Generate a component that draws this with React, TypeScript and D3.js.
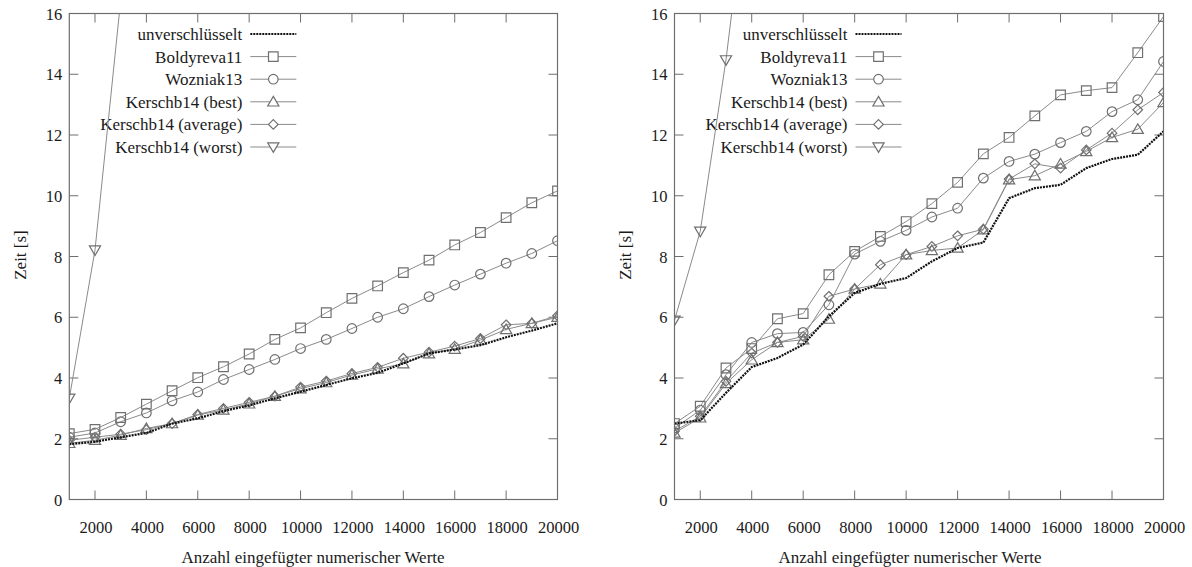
import React from "react";
import * as d3 from "d3";

const xValues = [1000, 2000, 3000, 4000, 5000, 6000, 7000, 8000, 9000, 10000, 11000, 12000, 13000, 14000, 15000, 16000, 17000, 18000, 19000, 20000];
const xTicks = [2000, 4000, 6000, 8000, 10000, 12000, 14000, 16000, 18000, 20000];
const yTicks = [0, 2, 4, 6, 8, 10, 12, 14, 16];

const seriesNames = ["unverschlüsselt", "Boldyreva11", "Wozniak13", "Kerschb14 (best)", "Kerschb14 (average)", "Kerschb14 (worst)"];
const seriesMarkers = ["none", "square", "circle", "triangle", "diamond", "triangleDown"];

// Left panel
const leftUnverschluesselt = [1.82, 1.9, 2.05, 2.19, 2.5, 2.67, 2.91, 3.1, 3.33, 3.55, 3.77, 3.99, 4.17, 4.48, 4.81, 4.94, 5.08, 5.34, 5.56, 5.8];
const leftBoldyreva = [2.17, 2.31, 2.7, 3.14, 3.58, 4.01, 4.37, 4.79, 5.27, 5.65, 6.15, 6.62, 7.03, 7.47, 7.88, 8.38, 8.79, 9.28, 9.77, 10.16];
const leftWozniak = [2.05, 2.19, 2.56, 2.85, 3.25, 3.54, 3.95, 4.28, 4.61, 4.97, 5.27, 5.63, 6.0, 6.28, 6.68, 7.06, 7.42, 7.78, 8.1, 8.52];
const leftBest = [1.85, 1.95, 2.12, 2.34, 2.5, 2.78, 2.95, 3.15, 3.4, 3.65, 3.85, 4.1, 4.3, 4.47, 4.8, 4.95, 5.25, 5.6, 5.8, 6.0];
const leftAverage = [1.95, 2.05, 2.15, 2.3, 2.5, 2.8, 3.0, 3.2, 3.4, 3.7, 3.9, 4.15, 4.35, 4.65, 4.85, 5.05, 5.3, 5.75, 5.8, 6.05];
const leftWorst = [3.33, 8.21, 16.44];

// Right panel
const rightUnverschluesselt = [2.5, 2.61, 3.51, 4.36, 4.66, 5.1, 6.03, 6.8, 7.1, 7.29, 7.84, 8.28, 8.46, 9.92, 10.25, 10.36, 10.91, 11.21, 11.35, 12.12];
const rightBoldyreva = [2.5, 3.07, 4.33, 4.97, 5.95, 6.12, 7.4, 8.17, 8.66, 9.15, 9.74, 10.44, 11.38, 11.92, 12.63, 13.32, 13.46, 13.56, 14.71, 15.9];
const rightWozniak = [2.35, 2.94, 4.11, 5.17, 5.46, 5.5, 6.41, 8.08, 8.5, 8.86, 9.3, 9.59, 10.58, 11.13, 11.37, 11.75, 12.12, 12.77, 13.16, 14.42];
const rightBest = [2.19, 2.69, 3.82, 4.6, 5.17, 5.26, 5.94, 6.93, 7.1, 8.06, 8.2, 8.28, 8.88, 10.53, 10.66, 11.05, 11.46, 11.92, 12.19, 13.07];
const rightAverage = [2.25, 2.74, 3.89, 4.82, 5.17, 5.37, 6.69, 6.93, 7.73, 8.06, 8.33, 8.68, 8.9, 10.55, 11.05, 10.91, 11.51, 12.06, 12.83, 13.4];
const rightWorst = [5.9, 8.83, 14.47, 21.4];

const xTitle = "Anzahl eingefügter numerischer Werte";
const yTitle = "Zeit [s]";

const FONT = "Liberation Serif";
const AXIS = "#6e6e6e";
const LINE = "#8a8a8a";
const MARK = "#6f6f6f";
const TXT = "#1a1a1a";

function markerPath(type: string, x: number, y: number): string {
  const s = 4.8;
  switch (type) {
    case "square":
      return `M${x - s},${y - s}H${x + s}V${y + s}H${x - s}Z`;
    case "circle":
      return `M${x - s},${y}A${s},${s} 0 1,0 ${x + s},${y}A${s},${s} 0 1,0 ${x - s},${y}Z`;
    case "triangle":
      return `M${x},${y - s - 0.6}L${x + s + 0.8},${y + s - 0.6}L${x - s - 0.8},${y + s - 0.6}Z`;
    case "diamond":
      return `M${x},${y - s}L${x + s},${y}L${x},${y + s}L${x - s},${y}Z`;
    case "triangleDown":
      return `M${x},${y + s + 0.6}L${x + s + 0.8},${y - s + 0.6}L${x - s - 0.8},${y - s + 0.6}Z`;
    default:
      return "";
  }
}

type PanelProps = {
  id: string;
  left: number;
  right: number;
  data: number[][];
  xTitleX: number;
  yTitleX: number;
};

function Panel({ id, left, right, data, xTitleX, yTitleX }: PanelProps) {
  const top = 13.5;
  const bottom = 499.5;
  const x = d3.scaleLinear().domain([1000, 20000]).range([left, right]);
  const y = d3.scaleLinear().domain([0, 16]).range([bottom, top]);
  const line = d3
    .line<number>()
    .x((_, i) => x(xValues[i]))
    .y((d) => y(d));
  const tickLen = 9;

  const order = [5, 4, 3, 2, 1, 0];
  const legendRight = left + 173;
  const legendTop = 34;
  const legendStep = 22.6;

  return (
    <g>
      <defs>
        <clipPath id={`clip-${id}`}>
          <rect x={left} y={top} width={right - left} height={bottom - top} />
        </clipPath>
      </defs>
      {xTicks.map((t) => (
        <g key={`xt${t}`}>
          <line x1={x(t)} x2={x(t)} y1={bottom} y2={bottom - tickLen} stroke={AXIS} strokeWidth={1} />
          <line x1={x(t)} x2={x(t)} y1={top} y2={top + tickLen} stroke={AXIS} strokeWidth={1} />
          <text x={x(t) + 1} y={533} textAnchor="middle" fontFamily={FONT} fontSize={16.5} fill={TXT}>
            {String(t)}
          </text>
        </g>
      ))}
      {yTicks.map((t) => (
        <g key={`yt${t}`}>
          <line x1={left} x2={left + tickLen} y1={y(t)} y2={y(t)} stroke={AXIS} strokeWidth={1} />
          <line x1={right} x2={right - tickLen} y1={y(t)} y2={y(t)} stroke={AXIS} strokeWidth={1} />
          <text x={left - 7} y={y(t) + 6} textAnchor="end" fontFamily={FONT} fontSize={16.5} fill={TXT}>
            {String(t)}
          </text>
        </g>
      ))}
      {seriesNames.map((name, i) => {
        const cy = legendTop + i * legendStep;
        const lx1 = legendRight + 8;
        const lx2 = legendRight + 54;
        return (
          <g key={`lg${i}`}>
            <text x={legendRight} y={cy + 6} textAnchor="end" fontFamily={FONT} fontSize={17} fill={TXT}>
              {name}
            </text>
            {i === 0 ? (
              <line x1={lx1} x2={lx2} y1={cy} y2={cy} stroke="#111" strokeWidth={2.2} strokeDasharray="2,1" />
            ) : (
              <g>
                <line x1={lx1} x2={lx2} y1={cy} y2={cy} stroke={LINE} strokeWidth={1} />
                <path d={markerPath(seriesMarkers[i], (lx1 + lx2) / 2, cy)} fill="white" stroke={MARK} strokeWidth={1.2} />
              </g>
            )}
          </g>
        );
      })}
      <g clipPath={`url(#clip-${id})`}>
        {order.map((si) => {
          const vals = data[si];
          if (si === 0) return null;
          return (
            <g key={`s${si}`}>
              <path d={line(vals) || ""} fill="none" stroke={LINE} strokeWidth={1} />
              {vals.map((v, i) => (
                <path key={i} d={markerPath(seriesMarkers[si], x(xValues[i]), y(v))} fill="none" stroke={MARK} strokeWidth={1.2} />
              ))}
            </g>
          );
        })}
        <path d={line(data[0]) || ""} fill="none" stroke="#111" strokeWidth={2.2} strokeDasharray="2,1" />
      </g>
      <rect x={left} y={top} width={right - left} height={bottom - top} fill="none" stroke={AXIS} strokeWidth={1.2} />
      <text x={xTitleX} y={563} textAnchor="middle" fontFamily={FONT} fontSize={17} fill={TXT}>
        {xTitle}
      </text>
      <text
        transform={`translate(${yTitleX},${255}) rotate(-90)`}
        textAnchor="middle"
        fontFamily={FONT}
        fontSize={17}
        fill={TXT}
      >
        {yTitle}
      </text>
    </g>
  );
}

export default function App() {
  const leftData = [leftUnverschluesselt, leftBoldyreva, leftWozniak, leftBest, leftAverage, leftWorst];
  const rightData = [rightUnverschluesselt, rightBoldyreva, rightWozniak, rightBest, rightAverage, rightWorst];
  return (
    <svg width={1192} height={567} fontFamily={FONT} style={{ position: "absolute", left: 0, top: 0, background: "white" }}>
      <rect x={0} y={0} width={1192} height={567} fill="white" />
      <Panel id="l" left={69.3} right={557.5} data={leftData} xTitleX={313} yTitleX={26} />
      <Panel id="r" left={674.5} right={1163.5} data={rightData} xTitleX={910} yTitleX={631} />
    </svg>
  );
}
